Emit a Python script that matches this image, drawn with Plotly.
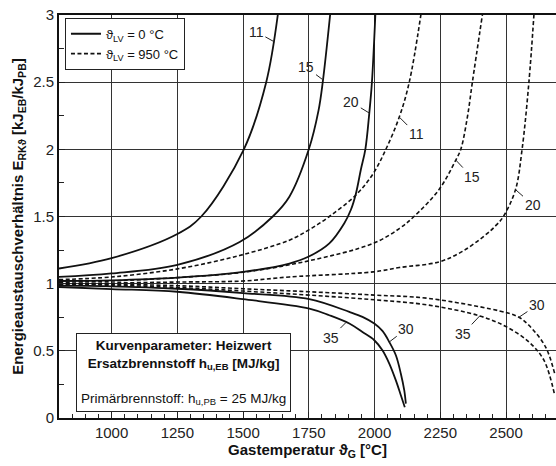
import plotly.graph_objects as go

# ---- data ----
# solid: theta_LV = 0 °C ; dashed: theta_LV = 950 °C
s11_x = [800, 1000, 1250, 1341, 1503, 1588, 1632]
s11_y = [1.113, 1.19, 1.37, 1.50, 2.00, 2.50, 3.00]
s15_x = [800, 1000, 1250, 1487, 1613, 1676, 1750, 1787, 1803, 1831]
s15_y = [1.05, 1.076, 1.14, 1.31, 1.50, 1.647, 2.00, 2.29, 2.50, 3.00]
s20_x = [800, 1000, 1250, 1500, 1676, 1748, 1828, 1885, 1910, 1929, 1948, 1965, 1980, 1990, 2003]
s20_y = [1.02, 1.025, 1.045, 1.088, 1.15, 1.20, 1.30, 1.45, 1.55, 1.67, 1.85, 2.00, 2.27, 2.50, 3.00]
s30_x = [800, 1000, 1250, 1500, 1752, 1904, 1954, 1999, 2030, 2056, 2081, 2100, 2113, 2119]
s30_y = [0.985, 0.98, 0.962, 0.93, 0.885, 0.79, 0.753, 0.703, 0.648, 0.566, 0.467, 0.33, 0.206, 0.107]
s35_x = [800, 1000, 1250, 1500, 1752, 1828, 1904, 1954, 1999, 2030, 2056, 2081, 2100, 2115]
s35_y = [0.975, 0.96, 0.94, 0.885, 0.815, 0.765, 0.703, 0.64, 0.579, 0.504, 0.405, 0.28, 0.169, 0.08]

d11_x = [800, 1000, 1250, 1487, 1676, 1750, 1828, 1929, 1995, 2043, 2094, 2132, 2176]
d11_y = [1.03, 1.05, 1.11, 1.21, 1.324, 1.40, 1.50, 1.66, 1.82, 2.00, 2.24, 2.50, 3.00]
d15_x = [800, 1000, 1250, 1500, 1750, 1995, 2094, 2150, 2245, 2309, 2328, 2353, 2372, 2410]
d15_y = [1.01, 1.02, 1.045, 1.085, 1.17, 1.30, 1.41, 1.50, 1.70, 1.92, 2.00, 2.24, 2.50, 3.00]
d20_x = [800, 1000, 1250, 1500, 1676, 1995, 2094, 2245, 2334, 2420, 2460, 2490, 2536, 2561, 2587, 2606]
d20_y = [1.00, 1.005, 1.012, 1.02, 1.05, 1.088, 1.12, 1.162, 1.24, 1.36, 1.43, 1.50, 1.70, 2.00, 2.50, 3.00]
d30_x = [800, 1000, 1250, 1500, 1750, 2000, 2207, 2500, 2549, 2587, 2650, 2685]
d30_y = [1.00, 0.995, 0.985, 0.962, 0.94, 0.915, 0.89, 0.785, 0.75, 0.69, 0.53, 0.33]
d35_x = [800, 1000, 1250, 1500, 1750, 2000, 2207, 2400, 2500, 2587, 2644, 2685]
d35_y = [0.995, 0.988, 0.972, 0.945, 0.915, 0.88, 0.84, 0.76, 0.68, 0.566, 0.43, 0.17]

x_ticks = [1000, 1250, 1500, 1750, 2000, 2250, 2500]
y_ticks = [0, 0.5, 1, 1.5, 2, 2.5, 3]
y_ticktext = ["0", "0.5", "1", "1.5", "2", "2.5", "3"]

# curve labels: text, x, y on curve, text offset (px)
labels = [
    ("11", 1619, 2.80, -18, -10),
    ("15", 1802, 2.52, -16, -12),
    ("20", 1980, 2.27, -18, -11),
    ("11", 2094, 2.24, 17, 17),
    ("15", 2309, 1.92, 16, 17),
    ("20", 2536, 1.70, 17, 15),
    ("35", 1891, 0.71, -15, 15),
    ("30", 2056, 0.566, 17, -13),
    ("35", 2400, 0.76, -17, 18),
    ("30", 2549, 0.75, 18, -12),
]

FONT = "Arial, Liberation Sans, sans-serif"

fig = go.Figure()

solid = [(s11_x, s11_y), (s15_x, s15_y), (s20_x, s20_y), (s30_x, s30_y), (s35_x, s35_y)]
dashed = [(d11_x, d11_y), (d15_x, d15_y), (d20_x, d20_y), (d30_x, d30_y), (d35_x, d35_y)]

for i, (xs, ys) in enumerate(solid):
    fig.add_trace(go.Scatter(
        x=xs, y=ys, mode="lines",
        line=dict(color="#111", width=1.8, shape="spline", smoothing=1.0),
        name="ϑ<sub>LV</sub> = 0 °C", showlegend=(i == 0), legendrank=1,
        hoverinfo="skip"))
for i, (xs, ys) in enumerate(dashed):
    fig.add_trace(go.Scatter(
        x=xs, y=ys, mode="lines",
        line=dict(color="#111", width=1.6, dash="4px,2.5px", shape="spline", smoothing=1.0),
        name="ϑ<sub>LV</sub> = 950 °C", showlegend=(i == 0), legendrank=2,
        hoverinfo="skip"))

for t, x, y, ax, ay in labels:
    fig.add_annotation(x=x, y=y, text=t, showarrow=True, arrowhead=0,
                       arrowwidth=1, arrowcolor="#222", ax=ax, ay=ay,
                       standoff=0, font=dict(family=FONT, size=14, color="#222"))

fig.add_annotation(
    xref="paper", yref="paper", x=0.2515, y=0.015, xanchor="center", yanchor="bottom",
    text=("<b>Kurvenparameter: Heizwert</b><br>"
          "<b>Ersatzbrennstoff h<sub>u,EB</sub> [MJ/kg]</b><br>"
          "<span style='font-size:4px'> </span><br>"
          "Primärbrennstoff: h<sub>u,PB</sub> = 25 MJ/kg"),
    showarrow=False, align="center", bgcolor="white", bordercolor="#222",
    borderwidth=1, borderpad=4, font=dict(family=FONT, size=13.5, color="#111"))

grid = "#333"
fig.update_xaxes(
    range=[800, 2690], tickvals=x_ticks, ticks="inside", ticklen=6, tickcolor="#222",
    showgrid=True, gridcolor=grid, gridwidth=1, zeroline=False, automargin=False,
    showline=True, linecolor="#111", linewidth=2, mirror=True,
    minor=dict(dtick=50, tick0=800, ticks="inside", ticklen=4, tickcolor="#222", showgrid=False),
    tickfont=dict(family=FONT, size=15, color="#222"),
    title=dict(text="<b>Gastemperatur ϑ<sub>G</sub> [°C]</b>", standoff=3,
               font=dict(family=FONT, size=15, color="#111")))
fig.update_yaxes(
    range=[0, 3], tickvals=y_ticks, ticktext=y_ticktext,
    ticks="inside", ticklen=6, tickcolor="#222",
    showgrid=True, gridcolor=grid, gridwidth=1, zeroline=False, automargin=False,
    showline=True, linecolor="#111", linewidth=2,
    minor=dict(dtick=0.25, tick0=0, ticks="inside", ticklen=5, tickcolor="#222", showgrid=False),
    tickfont=dict(family=FONT, size=15, color="#222"),
    title=dict(text="<b>Energieaustauschverhältnis E<sub>RKϑ</sub> [kJ<sub>EB</sub>/kJ<sub>PB</sub>]</b>",
               standoff=6, font=dict(family=FONT, size=15, color="#111")))

fig.update_layout(
    width=556, height=466,
    margin=dict(l=59, r=0, t=15, b=48),
    paper_bgcolor="white", plot_bgcolor="white",
    legend=dict(x=0.012, y=0.993, xanchor="left", yanchor="top",
                bgcolor="white", bordercolor="#222", borderwidth=1,
                font=dict(family=FONT, size=13, color="#111"),
                itemwidth=30, tracegroupgap=0),
    font=dict(family=FONT),
)

# remove the browser's default 8px page margin so the figure fills the window
fig.write_html("out.html", config={"displayModeBar": False},
               post_script="document.body.style.margin='0px';")
